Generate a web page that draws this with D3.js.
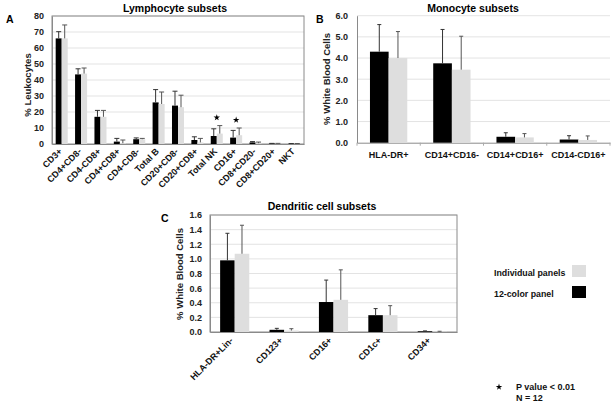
<!DOCTYPE html>
<html><head><meta charset="utf-8">
<script src="https://cdn.jsdelivr.net/npm/d3@7"></script>
<style>body{margin:0;background:#fff}svg{display:block;font-family:Arial,"Liberation Sans",sans-serif}</style>
</head><body><svg id="c" width="616" height="406"></svg>
<script>
// ---- Data ----
const seriesNames = ["12-color panel", "Individual panels"];
const seriesColors = ["#000000", "#dedede"];

const lymphCats = ["CD3+","CD4+CD8-","CD4-CD8+","CD4+CD8+","CD4-CD8-","Total B","CD20+CD8-","CD20+CD8+","Total NK","CD16+","CD8+CD20-","CD8+CD20+","NKT"];
const lymph12 = [66, 43.5, 17, 1.5, 3, 26, 24, 2.5, 5, 4, 1, 0.3, 0.2];
const lymph12Err = [4.2, 3.5, 4, 2, 0.8, 8, 9, 2, 4.5, 4.5, 0.5, 0.1, 0.1];
const lymphInd = [66, 44, 17, 0.5, 3, 25, 23, 1, 6.5, 5.5, 0.5, 0.3, 0.2];
const lymphIndErr = [8.4, 3.5, 4, 2, 0.5, 7.5, 7.5, 2.5, 5, 4.5, 0.7, 0.1, 0.1];
const lymphStar = [false,false,false,false,false,false,false,false,true,true,false,false,false];
const lymphTicks = [0,10,20,30,40,50,60,70,80];

const monoCats = ["HLA-DR+","CD14+CD16-","CD14+CD16+","CD14-CD16+"];
const mono12 = [4.3, 3.75, 0.28, 0.15];
const mono12Err = [1.28, 1.6, 0.19, 0.18];
const monoInd = [4.0, 3.45, 0.25, 0.13];
const monoIndErr = [1.25, 1.58, 0.18, 0.19];
const monoTicks = [0,1,2,3,4,5,6];

const dcCats = ["HLA-DR+Lin-","CD123+","CD16+","CD1c+","CD34+"];
const dc12 = [0.98, 0.03, 0.41, 0.23, 0.01];
const dc12Err = [0.37, 0.02, 0.30, 0.09, 0.005];
const dcInd = [1.07, 0.02, 0.44, 0.23, 0.005];
const dcIndErr = [0.39, 0.025, 0.41, 0.13, 0.005];
const dcTicks = [0,0.2,0.4,0.6,0.8,1.0,1.2,1.4,1.6];

const svg = d3.select("#c");
const FONT = 'Arial,"Liberation Sans",sans-serif';

function panel(o){
  const g = svg.append("g");
  const x = d3.scaleBand().domain(o.cats).range([o.x0,o.x1]).paddingInner(o.pad).paddingOuter(o.pad/2);
  const xs = d3.scaleBand().domain([0,1]).range([0,x.bandwidth()]);
  const y = d3.scaleLinear().domain([0,o.max]).range([o.y1,o.y0]);
  // gridlines
  g.append("g").selectAll("line").data(o.ticks.filter(t=>t>0)).join("line")
    .attr("x1",o.x0).attr("x2",o.x1).attr("y1",d=>y(d)).attr("y2",d=>y(d))
    .attr("stroke","#dcdcdc").attr("stroke-width",0.8);
  // frame
  if(o.frame){
    g.append("rect").attr("x",o.x0).attr("y",o.y0).attr("width",o.x1-o.x0).attr("height",o.y1-o.y0)
      .attr("fill","none").attr("stroke","#8a8a8a").attr("stroke-width",1);
  }
  // y axis
  const ya = g.append("g").attr("transform",`translate(${o.x0},0)`)
    .call(d3.axisLeft(y).tickValues(o.ticks).tickFormat(o.fmt).tickSize(0).tickPadding(o.tp));
  ya.select(".domain").attr("stroke","#8a8a8a");
  ya.selectAll("text").attr("font-family",FONT).attr("font-size",9).attr("font-weight","bold").attr("fill","#222");
  // x axis
  const xa = g.append("g").attr("transform",`translate(0,${o.y1})`)
    .call(d3.axisBottom(x).tickSize(0).tickPadding(0));
  xa.select(".domain").attr("stroke","#8a8a8a");
  xa.selectAll("text").remove();
  if(o.xticks){
    g.append("g").selectAll("line").data(o.cats.concat(["_end"])).join("line")
      .attr("x1",(d,i)=>o.x0+i*x.step()).attr("x2",(d,i)=>o.x0+i*x.step())
      .attr("y1",o.y1).attr("y2",o.y1+3).attr("stroke","#aaa");
  }
  const vals=[o.s0,o.s1], errs=[o.e0,o.e1];
  [0,1].forEach(s=>{
    const gg=g.append("g");
    gg.selectAll("rect").data(o.cats).join("rect")
      .attr("x",d=>x(d)+xs(s)).attr("width",xs.bandwidth())
      .attr("y",(d,i)=>y(vals[s][i])).attr("height",(d,i)=>o.y1-y(vals[s][i]))
      .attr("fill",seriesColors[s]);
    gg.selectAll("line.e").data(o.cats).join("line").attr("class","e")
      .attr("x1",d=>x(d)+xs(s)+xs.bandwidth()/2).attr("x2",d=>x(d)+xs(s)+xs.bandwidth()/2)
      .attr("y1",(d,i)=>y(vals[s][i])).attr("y2",(d,i)=>y(vals[s][i]+errs[s][i]))
      .attr("stroke",s?"#555":"#333").attr("stroke-width",1);
    gg.selectAll("line.c").data(o.cats).join("line").attr("class","c")
      .attr("x1",d=>x(d)+xs(s)+xs.bandwidth()/2-o.cap).attr("x2",d=>x(d)+xs(s)+xs.bandwidth()/2+o.cap)
      .attr("y1",(d,i)=>y(vals[s][i]+errs[s][i])).attr("y2",(d,i)=>y(vals[s][i]+errs[s][i]))
      .attr("stroke",s?"#555":"#333").attr("stroke-width",1);
  });
  if(o.stars){
    g.append("g").selectAll("path").data(o.cats.filter((d,i)=>o.stars[i])).join("path")
      .attr("d",d3.symbol(d3.symbolStar,13))
      .attr("transform",d=>{const i=o.cats.indexOf(d);
        const top=Math.max(o.s0[i]+o.e0[i],o.s1[i]+o.e1[i]);
        return `translate(${x(d)+x.bandwidth()/2},${y(top)-8})`;}).attr("fill","#000");
  }
  // category labels
  const lab = g.append("g").selectAll("text").data(o.cats).join("text")
    .attr("font-family",FONT).attr("font-size",9).attr("font-weight","bold").attr("fill","#111").text(d=>d);
  if(o.rot){
    lab.attr("text-anchor","end")
      .attr("transform",d=>`translate(${x(d)+x.bandwidth()/2+o.lx},${o.y1+o.ly}) rotate(-45)`);
  } else {
    lab.attr("text-anchor","middle").attr("x",d=>x(d)+x.bandwidth()/2).attr("y",o.y1+o.ly);
  }
  // title
  g.append("text").attr("x",o.tx).attr("y",o.ty).attr("text-anchor","middle")
    .attr("font-family",FONT).attr("font-size",10.5).attr("font-weight","bold").text(o.title);
  // panel letter
  g.append("text").attr("x",o.lX).attr("y",o.lY)
    .attr("font-family",FONT).attr("font-size",10.5).attr("font-weight","bold").text(o.letter);
  // y title
  g.append("text").attr("transform",`translate(${o.ytx},${o.yty}) rotate(-90)`).attr("text-anchor","middle")
    .attr("font-family",FONT).attr("font-size",9.5).attr("font-weight","bold").attr("fill","#222").text(o.ytitle);
}

panel({cats:lymphCats,s0:lymph12,e0:lymph12Err,s1:lymphInd,e1:lymphIndErr,stars:lymphStar,
  x0:52,x1:304,y0:16,y1:144,max:80,ticks:lymphTicks,fmt:d3.format("d"),tp:8,pad:0.38,cap:2.5,
  frame:true,rot:true,lx:1,ly:8,title:"Lymphocyte subsets",tx:175,ty:12,letter:"A",lX:6,lY:23,
  ytitle:"% Leukocytes",ytx:31,yty:85});
panel({cats:monoCats,s0:mono12,e0:mono12Err,s1:monoInd,e1:monoIndErr,
  x0:357,x1:610,y0:15.7,y1:142.7,max:6,ticks:monoTicks,fmt:d3.format(".1f"),tp:9,pad:0.41,cap:2,
  frame:false,xticks:true,rot:false,ly:15,title:"Monocyte subsets",tx:473,ty:12,letter:"B",lX:316,lY:23,
  ytitle:"% White Blood Cells",ytx:330,yty:79});
panel({cats:dcCats,s0:dc12,e0:dc12Err,s1:dcInd,e1:dcIndErr,
  x0:210,x1:457,y0:215,y1:332,max:1.6,ticks:dcTicks,fmt:d3.format(".1f"),tp:8,pad:0.41,cap:2,
  frame:true,rot:true,lx:-1,ly:9,title:"Dendritic cell subsets",tx:322,ty:210,letter:"C",lX:161,lY:222,
  ytitle:"% White Blood Cells",ytx:183,yty:274});

// legend
const leg = svg.append("g");
const legItems = [1,0];
leg.selectAll("text").data(legItems).join("text")
  .attr("x",494).attr("y",(d,i)=>276+i*21).attr("font-family",FONT).attr("font-size",8.8).attr("font-weight","bold")
  .attr("fill","#111").text(d=>seriesNames[d]);
leg.selectAll("rect").data(legItems).join("rect")
  .attr("x",572).attr("y",(d,i)=>265+i*21).attr("width",14).attr("height",12).attr("fill",d=>seriesColors[d]);
// footnote
svg.append("path").attr("d",d3.symbol(d3.symbolStar,13)).attr("transform","translate(499,387)").attr("fill","#000");
svg.append("text").attr("x",516).attr("y",390).attr("font-family",FONT).attr("font-size",9).attr("font-weight","bold").attr("fill","#111").text("P value < 0.01");
svg.append("text").attr("x",516).attr("y",401).attr("font-family",FONT).attr("font-size",9).attr("font-weight","bold").attr("fill","#111").text("N = 12");
</script></body></html>
